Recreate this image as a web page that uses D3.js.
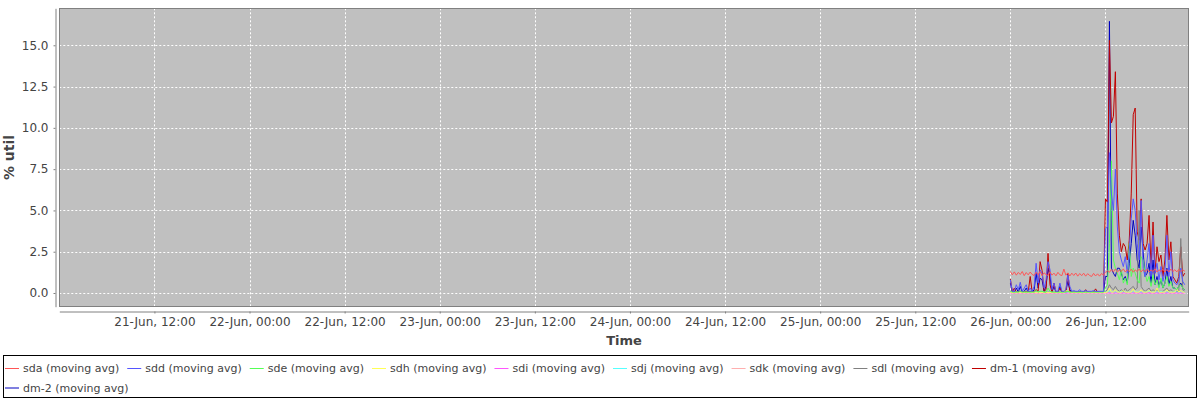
<!DOCTYPE html>
<html>
<head>
<meta charset="utf-8">
<script src="https://cdn.jsdelivr.net/npm/d3@7"></script>
<style>
  body { margin: 0; background: #fff; }
  text { font-family: "DejaVu Sans", sans-serif; }
</style>
</head>
<body>
<svg id="chart" width="1200" height="400"></svg>
<script>
// samples: 26-Jun 00:00 .. 22:00, one every 15 minutes (89 points)
const sampleStart = "2012-06-26 00:00";
const sampleStepMin = 15;

const sda = [
  1.3,1.1,1.28,1.08,1.25,1.12,1.3,1.05,1.24,1.1,1.27,1.12,1.06,1.26,1.1,1.3,1.05,1.22,1.12,1.06,1.28,1.08,1.2,1.04,
  1.25,1.1,1.05,1.45,1.08,1.22,1.03,1.2,1.06,1.21,1.02,1.18,1.05,1.2,1.02,1.17,1.06,1.0,1.19,1.03,1.16,1.02,1.18,1.08,
  1.22,1.35,1.25,1.42,1.28,1.45,1.26,1.4,1.3,1.46,1.27,1.41,1.29,1.44,1.26,1.4,1.3,1.45,1.27,1.42,1.29,1.44,
  1.28,1.4,1.3,1.46,1.27,1.41,1.3,1.44,1.28,1.42,1.27,1.45,1.3,1.41,1.28,1.43,1.3,1.4,1.32
];
const sdd = [
  0.8,0.1,0.1,0.5,0.2,0.65,0.1,0.3,0.5,0.1,0.3,0.1,0.4,1.8,0.6,1.4,1.2,0.3,0.8,1.9,1.4,0.2,0.6,0.1,
  0.1,0.6,0.1,0.1,0.2,1.1,0.4,0.1,0.15,0.1,0.1,0.2,0.1,0.1,0.15,0.1,0.1,0.1,0.15,0.1,0.1,0.1,0.1,0.1,
  3.9,4.0,8.5,6.0,5.0,7.5,4.0,2.5,2.0,1.6,2.2,1.2,2.5,4.5,5.7,5.0,3.0,2.0,5.6,1.5,1.0,2.0,
  3.0,1.0,3.5,1.2,1.8,0.8,1.6,0.7,1.3,3.5,1.0,2.5,0.8,0.6,0.5,0.8,1.5,0.7,0.5
];
const sde = [
  0.1,0.05,0.05,0.05,0.05,0.1,0.05,0.05,0.05,0.05,0.05,0.05,0.05,0.15,0.05,0.1,0.1,0.05,0.05,0.3,0.1,0.05,0.05,0.05,
  0.05,0.05,0.05,0.05,0.05,0.1,0.05,0.05,0.05,0.05,0.05,0.05,0.05,0.05,0.05,0.05,0.05,0.05,0.05,0.05,0.05,0.05,0.05,0.05,
  0.3,0.5,3.0,8.0,2.0,1.5,1.2,0.8,1.4,0.6,0.9,0.5,3.0,1.0,1.5,1.2,0.8,0.6,2.2,2.0,1.2,0.7,
  1.0,0.4,1.1,0.5,0.8,0.3,0.9,0.3,0.6,1.0,0.4,0.7,0.3,0.3,0.2,0.4,0.5,0.3,0.2
];
const sdh = [
  0.02,0.02,0.02,0.02,0.02,0.02,0.02,0.02,0.02,0.02,0.02,0.02,0.02,0.02,0.02,0.02,0.02,0.02,0.02,0.02,0.02,0.02,0.02,0.02,
  0.02,0.02,0.02,0.02,0.15,0.1,0.02,0.02,0.02,0.02,0.02,0.02,0.02,0.02,0.02,0.02,0.02,0.02,0.02,0.02,0.02,0.02,0.02,0.02,
  0.02,0.05,0.3,0.05,0.05,0.2,0.05,0.05,0.05,0.15,0.05,0.05,0.05,0.05,0.25,0.05,0.05,0.05,0.2,0.05,0.05,0.05,
  0.15,0.05,0.05,0.05,0.3,0.05,0.05,0.05,0.05,0.2,0.05,0.05,0.05,0.05,0.25,0.05,0.15,0.05,0.05
];
const sdi = [
  0,0,0,0,0,0,0,0,0,0,0,0,0,0,0,0,0,0,0,0,0,0,0,0,
  0,0,0,0,0,0,0,0,0,0,0,0,0,0,0,0,0,0,0,0,0,0,0,0,
  0,0,0,0,0,0,0,0,0,0,0,0,0,0,0,0,0,0,0,0,0,0,
  0,0,0,0,0,0,0,0,0,0,0,0,0,0,0,0,0,0,0
];
const sdj = [
  0.04,0.04,0.04,0.04,0.04,0.04,0.04,0.04,0.04,0.04,0.04,0.04,0.04,0.04,0.04,0.04,0.04,0.04,0.04,0.04,0.04,0.04,0.04,0.04,
  0.04,0.04,0.04,0.04,0.04,0.04,0.04,0.04,0.04,0.04,0.04,0.04,0.04,0.04,0.04,0.04,0.04,0.04,0.04,0.04,0.04,0.04,0.04,0.04,
  0.05,0.05,0.1,0.05,0.05,0.05,0.05,0.05,0.1,0.05,0.05,0.05,0.05,0.05,0.05,0.1,0.05,0.05,0.05,0.05,0.05,0.05,
  0.1,0.05,0.05,0.05,0.05,0.05,0.1,0.05,0.05,0.05,0.05,0.05,0.05,0.1,0.05,0.05,0.05,0.05,0.05
];
const sdk = [
  0,0,0,0,0,0,0,0,0,0,0,0,0,0,0,0,0,0,0,0,0,0,0,0,
  0,0,0,0,0,0,0,0,0,0,0,0,0,0,0,0,0,0,0,0,0,0,0,0,
  0,0,0,0,0,0,0,0,0,0,0,0,0,0,0,0,0,0,0,0,0,0,
  0,0,0,0,0,0,0,0,0,0,0,0,0,0,0,0,0,0,0
];
const sdl = [
  0.05,0.05,0.05,0.05,0.05,0.05,0.05,0.05,0.05,0.05,0.05,0.05,0.05,0.05,0.05,0.05,0.05,0.05,0.05,0.05,0.05,0.05,0.05,0.05,
  0.05,0.05,0.05,0.05,0.05,0.05,0.05,0.05,0.05,0.05,0.05,0.05,0.05,0.05,0.05,0.05,0.05,0.05,0.05,0.05,0.05,0.05,0.05,0.05,
  0.1,0.2,0.5,0.3,0.2,0.4,0.2,0.1,0.2,0.1,0.3,0.1,0.2,0.3,0.4,0.2,0.3,5.0,0.4,0.2,0.1,0.2,
  0.3,0.1,0.2,0.1,0.2,0.1,0.1,0.1,0.2,0.3,0.1,0.2,0.1,0.1,0.1,0.1,3.3,0.2,0.1
];
const dm1 = [
  0.85,0.05,0.3,0.05,0.05,0.1,0.05,0.05,0.1,0.05,1.0,0.05,0.1,0.2,0.1,1.9,1.37,0.1,0.2,2.4,0.5,0.05,0.6,0.05,
  0.05,0.3,0.05,0.05,0.05,1.2,0.1,0.05,0.05,0.05,0.05,0.05,0.05,0.05,0.2,0.05,0.05,0.05,0.05,0.25,0.05,0.05,0.05,0.05,
  5.7,5.5,15.3,10.3,10.7,13.4,6.0,3.5,2.5,3.0,2.8,2.0,3.2,6.0,10.8,11.2,3.7,3.2,5.7,3.0,2.6,3.0,
  4.7,1.5,4.3,1.2,2.8,1.9,2.3,1.0,2.0,4.7,2.0,3.1,1.0,0.8,0.6,1.0,2.8,1.0,1.2
];
const dm2 = [
  0.6,0.05,0.05,0.3,0.05,0.4,0.05,0.1,0.3,0.05,0.1,0.05,0.2,1.2,0.3,0.9,0.8,0.1,0.4,1.5,1.0,0.05,0.4,0.05,
  0.05,0.4,0.05,0.05,0.1,0.7,0.2,0.05,0.05,0.05,0.05,0.1,0.05,0.05,0.05,0.05,0.05,0.05,0.05,0.05,0.05,0.05,0.05,0.05,
  1.0,1.0,16.45,1.5,1.2,1.0,1.5,1.5,1.2,0.8,1.0,0.6,1.8,3.0,4.4,3.5,2.0,1.5,4.0,2.5,1.0,1.2,
  1.8,0.6,2.0,0.5,1.0,0.4,0.8,0.3,0.6,1.5,0.5,1.0,0.3,0.3,0.2,0.4,0.6,0.3,0.2
];

const seriesNames = ["sda", "sdd", "sde", "sdh", "sdi", "sdj", "sdk", "sdl", "dm-1", "dm-2"];
const seriesValues = [sda, sdd, sde, sdh, sdi, sdj, sdk, sdl, dm1, dm2];
const seriesColors = ["#ff5555", "#5555ff", "#55ff55", "#ffff55", "#ff55ff", "#55ffff", "#ffafaf", "#808080", "#c00000", "#0000c0"];

const xDomain = ["2012-06-21 00:00", "2012-06-26 22:30"];
const xTicks = ["2012-06-21 12:00", "2012-06-22 00:00", "2012-06-22 12:00", "2012-06-23 00:00", "2012-06-23 12:00",
  "2012-06-24 00:00", "2012-06-24 12:00", "2012-06-25 00:00", "2012-06-25 12:00", "2012-06-26 00:00", "2012-06-26 12:00"];
const yDomain = [-0.83, 17.24];
const yTicks = [0, 2.5, 5, 7.5, 10, 12.5, 15];

const parse = d3.timeParse("%Y-%m-%d %H:%M");
const t0 = parse(sampleStart);

const svg = d3.select("#chart");
const plotLeft = 59.3, plotRight = 1188.7, plotTop = 8.3, plotBottom = 306.7;

const x = d3.scaleTime().domain(xDomain.map(parse)).range([plotLeft, plotRight]);
const y = d3.scaleLinear().domain(yDomain).range([plotBottom, plotTop]);

// plot background
svg.append("rect")
  .attr("x", 59.5).attr("y", 8.5).attr("width", 1129).attr("height", 298)
  .attr("fill", "#c0c0c0");

svg.append("clipPath").attr("id", "clip")
  .append("rect").attr("x", plotLeft).attr("y", plotTop)
  .attr("width", plotRight - plotLeft).attr("height", plotBottom - plotTop);

// gridlines
const grid = svg.append("g").attr("stroke", "#ffffff").attr("stroke-dasharray", "2,2").attr("stroke-width", 1);
grid.selectAll("line.v").data(xTicks.map(parse)).enter().append("line")
  .attr("x1", d => Math.round(x(d)) + 0.5).attr("x2", d => Math.round(x(d)) + 0.5)
  .attr("y1", plotTop).attr("y2", plotBottom);
grid.selectAll("line.h").data(yTicks).enter().append("line")
  .attr("y1", d => Math.round(y(d)) + 0.5).attr("y2", d => Math.round(y(d)) + 0.5)
  .attr("x1", plotLeft).attr("x2", plotRight);

// series, drawn last-to-first so sda ends on top
const line = d3.line()
  .x((d, i) => x(d3.timeMinute.offset(t0, i * sampleStepMin)))
  .y(d => y(d));

const lines = svg.append("g").attr("clip-path", "url(#clip)");
for (let k = seriesValues.length - 1; k >= 0; k--) {
  lines.append("path")
    .attr("d", line(seriesValues[k]))
    .attr("fill", "none")
    .attr("stroke", seriesColors[k])
    .attr("stroke-width", 1);
}

// plot outline
svg.append("rect")
  .attr("x", 59.5).attr("y", 8.5).attr("width", 1129).attr("height", 298)
  .attr("fill", "none").attr("stroke", "#808080");

// axes
const yAxis = svg.append("g")
  .attr("transform", "translate(55.5,0)")
  .call(d3.axisLeft(y).tickValues(yTicks).tickFormat(d3.format(".1f")).tickSize(2).tickSizeOuter(0).tickPadding(5));
const xAxis = svg.append("g")
  .attr("transform", "translate(0,311.5)")
  .call(d3.axisBottom(x).tickValues(xTicks.map(parse)).tickFormat(d3.timeFormat("%d-%b, %H:%M")).tickSize(2).tickSizeOuter(0).tickPadding(4));

[yAxis, xAxis].forEach(a => {
  a.select(".domain").attr("stroke", "#808080");
  a.selectAll(".tick line").attr("stroke", "#808080");
  a.selectAll(".tick text").attr("fill", "#444").style("font-size", "12px").style("font-family", "DejaVu Sans");
});

svg.append("text")
  .attr("transform", "translate(14,157.5) rotate(-90)")
  .attr("text-anchor", "middle")
  .attr("fill", "#444").style("font-size", "14px").style("font-weight", "bold")
  .text("% util");

svg.append("text")
  .attr("x", 624).attr("y", 345)
  .attr("text-anchor", "middle")
  .attr("fill", "#444").style("font-size", "13px").style("font-weight", "bold")
  .text("Time");

// legend
svg.append("rect")
  .attr("x", 3.5).attr("y", 355.5).attr("width", 1193).attr("height", 42)
  .attr("fill", "#fff").attr("stroke", "#000");

const legend = svg.append("g");
let lx = 5, ly = 368;
seriesNames.forEach((name, k) => {
  if (k === seriesNames.length - 1) { lx = 5; ly = 387.5; }
  const g = legend.append("g");
  g.append("line")
    .attr("x1", lx).attr("x2", lx + 14).attr("y1", ly + 0.5).attr("y2", ly + 0.5)
    .attr("stroke", seriesColors[k]);
  const t = g.append("text")
    .attr("x", lx + 18).attr("y", ly + 4)
    .attr("fill", "#444").style("font-size", "11px")
    .text(name + " (moving avg)");
  lx += 18 + t.node().getComputedTextLength() + 8;
});
</script>
</body>
</html>
